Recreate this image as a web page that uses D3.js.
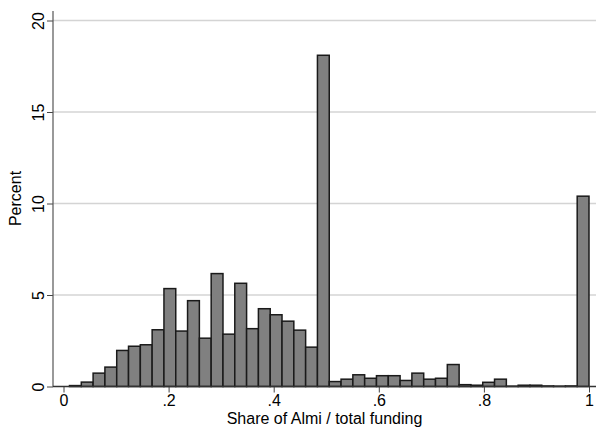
<!DOCTYPE html>
<html><head><meta charset="utf-8">
<script src="https://cdn.jsdelivr.net/npm/d3@7"></script>
<style>body{margin:0;background:#fff}svg{display:block}</style>
</head><body>
<script>
// Histogram: 44 bins from binStart to 1
const binStart = 0.0114;
const binEnd = 1.0;
const percents = [0.05,0.24,0.73,1.06,1.97,2.2,2.28,3.1,5.35,3.03,4.69,2.64,6.17,2.86,5.64,3.16,4.25,3.92,3.57,3.08,2.15,18.1,
  0.27,0.4,0.64,0.45,0.59,0.59,0.33,0.73,0.4,0.45,1.2,0.1,0.07,0.23,0.4,0.02,0.07,0.07,0.03,0.02,0.03,10.4];
const xTicks = [0,0.2,0.4,0.6,0.8,1];
const xTickLabels = ["0",".2",".4",".6",".8","1"];
const yTicks = [0,5,10,15,20];
const xTitle = "Share of Almi / total funding";
const yTitle = "Percent";

const W=596,H=427;
const svg=d3.select("body").append("svg").attr("width",W).attr("height",H);
const font="Liberation Sans, Arial, sans-serif";
const x=d3.scaleLinear().domain([0,1]).range([63.5,589]);
const y=d3.scaleLinear().domain([0,20]).range([386.5,20.5]);
const pL=53, pR=596, pT=11;

const w=(binEnd-binStart)/percents.length;
const bins=percents.map((p,i)=>({x0:binStart+i*w,x1:binStart+(i+1)*w,p}));

// gridlines
svg.append("g").selectAll("line").data(yTicks.filter(d=>d>0)).join("line")
  .attr("x1",pL).attr("x2",pR).attr("y1",d=>y(d)).attr("y2",d=>y(d))
  .attr("stroke","#d4d4d4").attr("stroke-width",1.3);

// bars
svg.append("g").selectAll("rect").data(bins).join("rect")
  .attr("x",d=>x(d.x0)).attr("width",d=>x(d.x1)-x(d.x0))
  .attr("y",d=>y(d.p)).attr("height",d=>y(0)-y(d.p))
  .attr("fill","#808080").attr("stroke","#1a1a1a").attr("stroke-width",1.5);

// y axis
const ya=svg.append("g").attr("transform",`translate(${pL},0)`)
  .call(d3.axisLeft(y).tickValues(yTicks).tickSize(6).tickPadding(8));
ya.select(".domain").remove();
ya.selectAll(".tick line").attr("stroke","#444");
ya.selectAll(".tick text").attr("font-family",font).attr("font-size",16).attr("fill","#000")
  .attr("text-anchor","middle").attr("x",null).attr("dy","0.35em")
  .attr("transform","translate(-15,0) rotate(-90)");
svg.append("line").attr("x1",pL).attr("x2",pL).attr("y1",pT).attr("y2",y(0)+0.5)
  .attr("stroke","#555").attr("stroke-width",1.2);

// x axis
const xa=svg.append("g").attr("transform",`translate(0,${y(0)})`)
  .call(d3.axisBottom(x).tickValues(xTicks).tickFormat((d,i)=>xTickLabels[i]).tickSize(6).tickPadding(2));
xa.select(".domain").remove();
xa.selectAll(".tick line").attr("stroke","#444");
xa.selectAll(".tick text").attr("font-family",font).attr("font-size",16).attr("fill","#000");
svg.append("line").attr("x1",pL).attr("x2",pR).attr("y1",y(0)).attr("y2",y(0))
  .attr("stroke","#333").attr("stroke-width",1.5);

// titles
svg.append("text").attr("x",(pL+pR)/2).attr("y",424).attr("text-anchor","middle")
  .attr("font-family",font).attr("font-size",16).text(xTitle);
svg.append("text").attr("transform",`translate(21,${(pT+386)/2}) rotate(-90)`).attr("text-anchor","middle")
  .attr("font-family",font).attr("font-size",16).text(yTitle);
</script>
</body></html>
